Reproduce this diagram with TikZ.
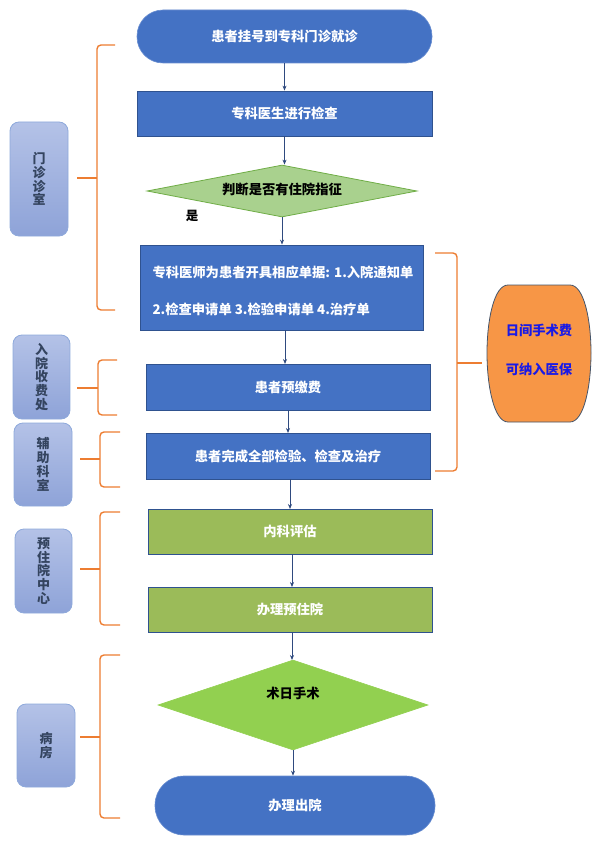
\documentclass[tikz,border=0pt]{standalone}
\usepackage{fontspec}
\setmainfont{Liberation Sans}
\newfontfamily\cjk{Noto Sans CJK SC}
\usetikzlibrary{shapes.geometric,arrows.meta}
\definecolor{blueF}{HTML}{4472C4}
\definecolor{blueD}{HTML}{2F528F}
\definecolor{greenB}{HTML}{9BBB59}
\definecolor{dOneF}{HTML}{A9D18E}
\definecolor{dOneD}{HTML}{70AD47}
\definecolor{dTwoF}{HTML}{92D050}
\definecolor{braceC}{HTML}{ED7D31}
\definecolor{barrelF}{HTML}{F79646}
\definecolor{barrelD}{HTML}{44546A}
\definecolor{labT}{HTML}{B4C2E7}
\definecolor{labB}{HTML}{8EA3D8}
\definecolor{labD}{HTML}{8EA9DB}
\definecolor{labText}{HTML}{34445F}
\definecolor{arrC}{HTML}{2F4A7F}
\definecolor{feeC}{HTML}{1A1AE6}
\begin{document}
\begin{tikzpicture}[x=1pt,y=-1pt,
  font=\cjk\bfseries\fontsize{13.3}{16}\selectfont,
  bluebox/.style={draw=blueD, fill=blueF, text=white, line width=0.8pt, inner sep=0pt},
  greenbox/.style={draw=blueD, fill=greenB, text=white, line width=0.8pt, inner sep=0pt},
  termbox/.style={draw=blueF!80!white, fill=blueF, text=white, line width=0.6pt, inner sep=0pt},
  labbox/.style={draw=labD, line width=0.8pt, top color=labT, bottom color=labB, rounded corners=9pt,
     inner sep=0pt, text=labText, align=center, font=\cjk\bfseries\fontsize{13}{13.8}\selectfont},
  arr/.style={draw=arrC, line width=0.7pt, -{Stealth[length=5pt,width=4pt]}},
  bracep/.style={draw=braceC, line width=1.4pt, rounded corners=4pt},
  ]
\useasboundingbox (0,0) rectangle (600,848);

% main flow
\node[termbox, rounded corners=26pt, minimum width=295pt, minimum height=53pt] (t1) at (284.5,36.5) {患者挂号到专科门诊就诊};
\node[bluebox, minimum width=295pt, minimum height=45pt] (b2) at (284.5,113.5) {专科医生进行检查};
\node[diamond, draw=dOneD, fill=dOneF, line width=0.8pt, inner sep=0pt, minimum width=270pt, minimum height=52pt] (d1) at (282,191) {};
\node[text=black] (d1t) at (282,189) {判断是否有住院指征};
\node[text=black, font=\cjk\bfseries\fontsize{12.5}{14}\selectfont] (yes) at (192,216) {是};
\node[bluebox, minimum width=283pt, minimum height=85pt] (b3) at (281.5,287.5) {};
\node[text=white, anchor=west] (b3a) at (149,272) {专科医师为患者开具相应单据: 1.入院通知单};
\node[text=white, anchor=west] (b3b) at (149,309) {2.检查申请单 3.检验申请单 4.治疗单};
\node[bluebox, minimum width=284pt, minimum height=46pt] (b4) at (288,387) {患者预缴费};
\node[bluebox, minimum width=284pt, minimum height=46pt] (b5) at (288,456) {患者完成全部检验、检查及治疗};
\node[greenbox, minimum width=284pt, minimum height=45pt] (b6) at (290,531.5) {内科评估};
\node[greenbox, minimum width=284pt, minimum height=45pt] (b7) at (290,609.5) {办理预住院};
\node[diamond, draw=dTwoF, fill=dTwoF, line width=0.6pt, inner sep=0pt, minimum width=270pt, minimum height=90pt] (d2) at (293,705) {};
\node[text=black] (d2t) at (293,693) {术日手术};
\node[termbox, rounded corners=29pt, minimum width=280pt, minimum height=59pt] (t2) at (295,805.5) {办理出院};

% arrows
\draw[arr] (t1.south) -- (t1.south |- b2.north);
\draw[arr] (b2.south) -- (b2.south |- d1.north);
\draw[arr] (d1.south) -- (d1.south |- b3.north);
\draw[arr] (285,330) -- (285,364);
\draw[arr] (288,410) -- (288,433);
\draw[arr] (290,479) -- (290,509);
\draw[arr] (292,554) -- (292,587);
\draw[arr] (292,632) -- (292,660);
\draw[arr] (d2.south) -- (d2.south |- t2.north);

% left labels
\node[labbox, minimum width=58pt, minimum height=114pt] (L1) at (39,179) {门\\诊\\诊\\室};
\node[labbox, minimum width=57pt, minimum height=84pt] (L2) at (41.5,377) {入\\院\\收\\费\\处};
\node[labbox, minimum width=58pt, minimum height=83pt] (L3) at (43,464.5) {辅\\助\\科\\室};
\node[labbox, minimum width=57pt, minimum height=84pt] (L4) at (43.5,571) {预\\住\\院\\中\\心};
\node[labbox, minimum width=58pt, minimum height=83pt] (L5) at (46,745.5) {病\\房};

% left braces
\draw[bracep] (115,45) -- (97,45) -- (97,310) -- (115,310);
\draw[bracep] (97,178) -- (77,178);
\draw[bracep] (117,360) -- (98,360) -- (98,415) -- (117,415);
\draw[bracep] (98,388) -- (77,388);
\draw[bracep] (120,432) -- (100,432) -- (100,487) -- (120,487);
\draw[bracep] (100,459) -- (80,459);
\draw[bracep] (120,512) -- (100,512) -- (100,625) -- (120,625);
\draw[bracep] (100,569) -- (80,569);
\draw[bracep] (120,655) -- (100,655) -- (100,818) -- (120,818);
\draw[bracep] (100,737) -- (80,737);

% right brace
\draw[bracep] (435,253) -- (457,253) -- (457,471) -- (435,471);
\draw[bracep] (457,363) -- (482,363);

% barrel
\draw[draw=barrelD, fill=barrelF, line width=0.8pt]
  (508,285) -- (570,285)
  .. controls (584,285) and (591,320) .. (591,353)
  .. controls (591,386) and (584,422) .. (570,422)
  -- (508,422)
  .. controls (494,422) and (487,386) .. (487,353)
  .. controls (487,320) and (494,285) .. (508,285) -- cycle;
\node[text=feeC] (f1) at (539,330) {日间手术费};
\node[text=feeC] (f2) at (539,369) {可纳入医保};
\end{tikzpicture}
\end{document}
